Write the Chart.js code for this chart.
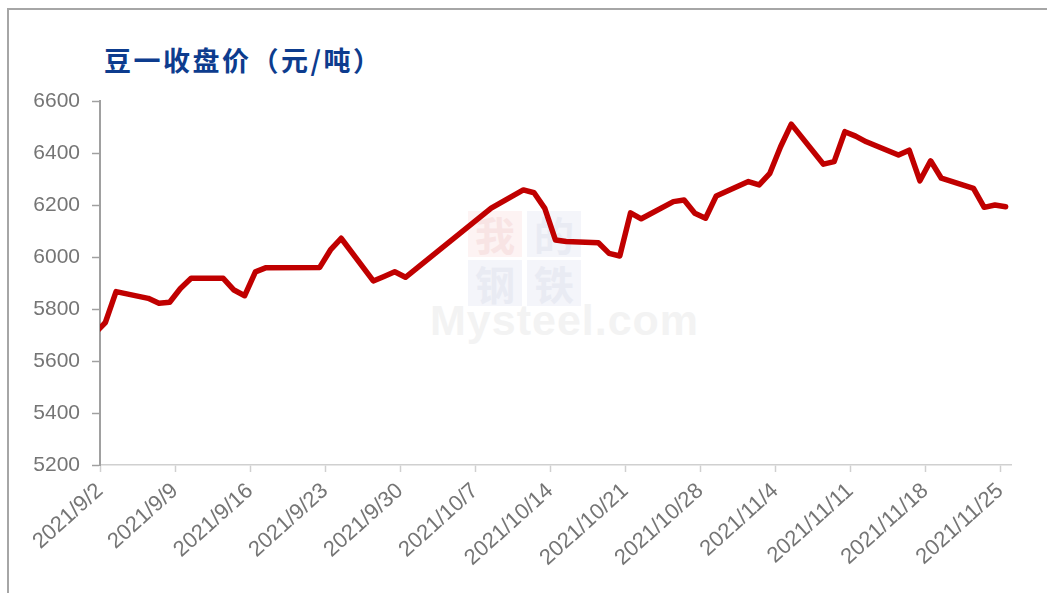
<!DOCTYPE html>
<html>
<head>
<meta charset="utf-8">
<script src="https://cdn.jsdelivr.net/npm/chart.js@4"></script>
<style>
  html, body { margin: 0; padding: 0; background: #fff; overflow: hidden; }
  #wrap { position: relative; width: 1047px; height: 593px; overflow: hidden; }
  #frame { position: absolute; left: 7px; top: 8px; width: 1100px; height: 700px; border: 2px solid #a6a6a6; }
  #title { position: absolute; left: 104px; top: 40px; font: bold 27px "Noto Sans CJK SC"; color: #0d3c8e; letter-spacing: 2.5px; white-space: nowrap; }
  .wm { position: absolute; width: 54px; height: 46px; font: bold 40px "Noto Sans CJK SC"; line-height: 46px; text-align: center; }
  #wmtext { position: absolute; left: 430px; top: 296px; font: bold 43px "Liberation Sans"; color: #f3f3f3; letter-spacing: 1px; }
  #c { position: absolute; left: 0; top: 0; }
</style>
</head>
<body>
<div id="wrap">
  <div id="frame"></div>
  <div id="wmtext">Mysteel.com</div>
  <div class="wm" style="left:468px;top:211px;background:#fdf3f3;color:#f8e4e4;">我</div>
  <div class="wm" style="left:527px;top:211px;background:#f4f5fa;color:#e9ebf3;">的</div>
  <div class="wm" style="left:468px;top:260px;background:#f4f5fa;color:#e9ebf3;">钢</div>
  <div class="wm" style="left:527px;top:260px;background:#f4f5fa;color:#e9ebf3;">铁</div>
  <div id="title">豆一收盘价（元/吨）</div>
  <canvas id="c" width="1047" height="593"></canvas>
</div>
<script>
// 交易日
const dates = ['2021/9/1', '2021/9/2', '2021/9/3', '2021/9/6', '2021/9/7', '2021/9/8', '2021/9/9', '2021/9/10',
  '2021/9/13', '2021/9/14', '2021/9/15', '2021/9/16', '2021/9/17', '2021/9/22', '2021/9/23', '2021/9/24',
  '2021/9/27', '2021/9/28', '2021/9/29', '2021/9/30', '2021/10/8', '2021/10/11', '2021/10/12', '2021/10/13',
  '2021/10/14', '2021/10/15', '2021/10/18', '2021/10/19', '2021/10/20', '2021/10/21', '2021/10/22',
  '2021/10/25', '2021/10/26', '2021/10/27', '2021/10/28', '2021/10/29', '2021/11/1', '2021/11/2', '2021/11/3',
  '2021/11/4', '2021/11/5', '2021/11/8', '2021/11/9', '2021/11/10', '2021/11/11', '2021/11/12', '2021/11/15',
  '2021/11/16', '2021/11/17', '2021/11/18', '2021/11/19', '2021/11/22', '2021/11/23', '2021/11/24', '2021/11/25'];

// 豆一收盘价（元/吨）
const prices = [5705, 5748, 5867, 5841, 5822, 5826, 5879, 5918,
  5918, 5873, 5851, 5943, 5959, 5960, 6027, 6072,
  5908, 5925, 5943, 5922, 6188, 6258, 6247, 6187,
  6065, 6060, 6055, 6014, 6004, 6170, 6147,
  6213, 6219, 6168, 6149, 6235, 6290, 6277, 6322,
  6424, 6511, 6357, 6367, 6482, 6465, 6443, 6392,
  6411, 6293, 6370, 6303, 6264, 6191, 6200, 6193];

const tickLabels = ['2021/9/2', '2021/9/9', '2021/9/16', '2021/9/23', '2021/9/30', '2021/10/7', '2021/10/14',
  '2021/10/21', '2021/10/28', '2021/11/4', '2021/11/11', '2021/11/18', '2021/11/25'];
const yTicks = [5200, 5400, 5600, 5800, 6000, 6200, 6400, 6600];

// 日期 -> 距 9/2 的天数
function dayNum(s) {
  let p = s.split('/');
  return (Date.UTC(+p[0], +p[1] - 1, +p[2]) - Date.UTC(2021, 8, 2)) / 86400000;
}
const tickDays = tickLabels.map(dayNum);
// 点画在当天的中间
const points = dates.map((d, i) => ({ x: dayNum(d) + 0.5, y: prices[i] }));

new Chart(document.getElementById('c'), {
  type: 'line',
  data: {
    datasets: [{
      data: points,
      borderColor: '#c00000',
      borderWidth: 5.5,
      borderJoinStyle: 'round',
      borderCapStyle: 'round',
      pointRadius: 0,
      tension: 0,
      clip: 0
    }]
  },
  options: {
    responsive: false,
    animation: false,
    layout: { padding: { left: 0, top: 101, right: 36, bottom: 0 } },
    plugins: { legend: { display: false }, tooltip: { enabled: false } },
    scales: {
      x: {
        type: 'linear',
        min: 0,
        max: 85,
        afterFit: s => { s.height = 128; },
        afterBuildTicks: s => { s.ticks = tickDays.map(v => ({ value: v })); },
        grid: { drawOnChartArea: false, drawTicks: true, tickLength: 7, color: '#d0d0d0', tickWidth: 1.5 },
        border: { display: true, color: '#d0d0d0', width: 1.5 },
        ticks: {
          autoSkip: false,
          minRotation: 42,
          maxRotation: 42,
          padding: 6,
          color: '#757575',
          font: { family: 'Liberation Sans', size: 22 },
          callback: v => tickLabels[tickDays.indexOf(v)]
        }
      },
      y: {
        min: 5200,
        max: 6600,
        afterFit: s => { s.width = 100; },
        afterBuildTicks: s => { s.ticks = yTicks.map(v => ({ value: v })); },
        grid: { drawOnChartArea: false, drawTicks: true, tickLength: 8, color: '#a0a0a0', tickWidth: 1.5 },
        border: { display: true, color: '#a0a0a0', width: 2 },
        ticks: { padding: 12, color: '#757575', font: { family: 'Liberation Sans', size: 21 }, callback: v => String(v) }
      }
    }
  }
});
</script>
</body>
</html>
